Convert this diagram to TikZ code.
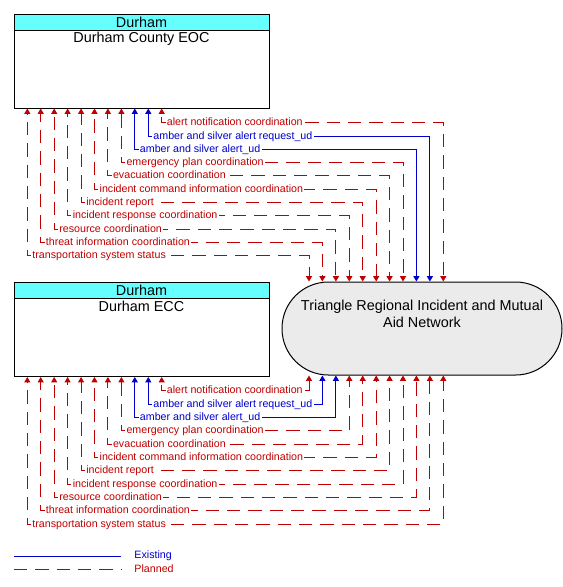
\documentclass[tikz,border=0pt]{standalone}
\usepackage{fontspec}
\setmainfont{Liberation Sans}
\usetikzlibrary{positioning,arrows.meta}
\definecolor{Planned}{HTML}{C00000}
\definecolor{Existing}{HTML}{0000CC}
\definecolor{Header}{HTML}{66FFFF}
\definecolor{Cloud}{HTML}{EBEBEB}

\begin{document}
\begin{tikzpicture}[x=0.75pt,y=-0.75pt,line width=0.75pt,
    >={Triangle[width=4.5pt,length=4pt]},
    sysbox/.style={draw,minimum width=191.25pt,minimum height=70.5pt,inner sep=0pt},
    hdrbox/.style={draw,fill=Header,minimum width=191.25pt,minimum height=12pt,inner sep=0pt,font=\fontsize{10.8}{12}\selectfont},
    title/.style={inner sep=1pt,align=center,font=\fontsize{10.8}{12.5}\selectfont},
    cloudbox/.style={draw,fill=Cloud,rounded corners=34.8pt,minimum width=210pt,minimum height=69.75pt},
    planned/.style={color=Planned,dash pattern=on 10pt off 6pt,dash phase=#1,<->},
    planned/.default=0pt,
    existing/.style={color=Existing,<->},
    flowlbl/.style={pos=0.5,anchor=west,xshift=2.5pt,fill=white,inner xsep=1pt,inner ysep=0.5pt,text height=6pt,text depth=1.5pt,font=\fontsize{8}{9}\selectfont},
    legendlbl/.style={anchor=west,inner sep=0pt,font=\fontsize{8}{9}\selectfont}
  ]
    \useasboundingbox (0,0) rectangle (563,587);

    % the three systems
    \node[sysbox] (eoc) at (141.5,61) {};
    \node[hdrbox,anchor=north] (eochdr) at (eoc.north) {Durham};
    \node[title,below=0pt of eochdr] (eoctxt) {Durham County EOC};

    \node[sysbox] (ecc) at (141.5,329.5) {};
    \node[hdrbox,anchor=north] (ecchdr) at (ecc.north) {Durham};
    \node[title,below=0pt of ecchdr] (ecctxt) {Durham ECC};

    \node[cloudbox] (trian) at (422,328.5) {};
    \node[title] (triantxt) at (422,314) {Triangle Regional Incident and Mutual\\Aid Network};

    % Durham County EOC <-> Triangle Regional
    \draw[planned=13.5pt] (eoc.south -| 161.7,0) |- node[flowlbl]{alert notification coordination} (443.3,122.7) -- (trian.north -| 443.3,0);
    \draw[existing] (eoc.south -| 148.3,0) |- node[flowlbl]{amber and silver alert request\_ud} (429.9,136.0) -- (trian.north -| 429.9,0);
    \draw[existing] (eoc.south -| 134.8,0) |- node[flowlbl]{amber and silver alert\_ud} (416.4,149.3) -- (trian.north -| 416.4,0);
    \draw[planned=15.5pt] (eoc.south -| 121.4,0) |- node[flowlbl]{emergency plan coordination} (403.0,162.6) -- (trian.north -| 403.0,0);
    \draw[planned=5.6pt] (eoc.south -| 107.9,0) |- node[flowlbl]{evacuation coordination} (389.6,175.9) -- (trian.north -| 389.6,0);
    \draw[planned=11.6pt] (eoc.south -| 94.5,0) |- node[flowlbl]{incident command information coordination} (376.2,189.2) -- (trian.north -| 376.2,0);
    \draw[planned=1.6pt] (eoc.south -| 81.1,0) |- node[flowlbl]{incident report} (362.7,202.5) -- (trian.north -| 362.7,0);
    \draw[planned=7.6pt] (eoc.south -| 67.6,0) |- node[flowlbl]{incident response coordination} (349.3,215.8) -- (trian.north -| 349.3,0);
    \draw[planned=13.7pt] (eoc.south -| 54.2,0) |- node[flowlbl]{resource coordination} (335.9,229.1) -- (trian.north -| 335.9,0);
    \draw[planned=3.7pt] (eoc.south -| 40.7,0) |- node[flowlbl]{threat information coordination} (322.4,242.4) -- (trian.north -| 322.4,0);
    \draw[planned=9.7pt] (eoc.south -| 27.3,0) |- node[flowlbl]{transportation system status} (309.0,255.7) -- (trian.north -| 309.0,0);

    % Durham ECC <-> Triangle Regional
    \draw[planned=13.8pt] (ecc.south -| 161.7,0) |- node[flowlbl]{alert notification coordination} (309.0,390.7) -- (trian.south -| 309.0,0);
    \draw[existing] (ecc.south -| 148.3,0) |- node[flowlbl]{amber and silver alert request\_ud} (322.4,404.0) -- (trian.south -| 322.4,0);
    \draw[existing] (ecc.south -| 134.8,0) |- node[flowlbl]{amber and silver alert\_ud} (335.9,417.4) -- (trian.south -| 335.9,0);
    \draw[planned=15.8pt] (ecc.south -| 121.4,0) |- node[flowlbl]{emergency plan coordination} (349.3,430.7) -- (trian.south -| 349.3,0);
    \draw[planned=5.8pt] (ecc.south -| 107.9,0) |- node[flowlbl]{evacuation coordination} (362.7,444.0) -- (trian.south -| 362.7,0);
    \draw[planned=11.8pt] (ecc.south -| 94.5,0) |- node[flowlbl]{incident command information coordination} (376.2,457.4) -- (trian.south -| 376.2,0);
    \draw[planned=1.8pt] (ecc.south -| 81.1,0) |- node[flowlbl]{incident report} (389.6,470.7) -- (trian.south -| 389.6,0);
    \draw[planned=7.8pt] (ecc.south -| 67.6,0) |- node[flowlbl]{incident response coordination} (403.0,484.0) -- (trian.south -| 403.0,0);
    \draw[planned=13.8pt] (ecc.south -| 54.2,0) |- node[flowlbl]{resource coordination} (416.4,497.3) -- (trian.south -| 416.4,0);
    \draw[planned=3.8pt] (ecc.south -| 40.7,0) |- node[flowlbl]{threat information coordination} (429.9,510.7) -- (trian.south -| 429.9,0);
    \draw[planned=9.8pt] (ecc.south -| 27.3,0) |- node[flowlbl]{transportation system status} (443.3,524.0) -- (trian.south -| 443.3,0);

    % legend
    \coordinate (exA) at (14,556);
    \coordinate (exB) at (121,556);
    \coordinate (plA) at (14,569);
    \coordinate (plB) at (121,569);
    \draw[existing,-] (exA) -- (exB);
    \draw[planned,-] (plA) -- (plB);
    \node[legendlbl,text=Existing] (exlbl) at (134,556) {Existing};
    \node[legendlbl,text=Planned] (pllbl) at (134,569) {Planned};
  \end{tikzpicture}
\end{document}
